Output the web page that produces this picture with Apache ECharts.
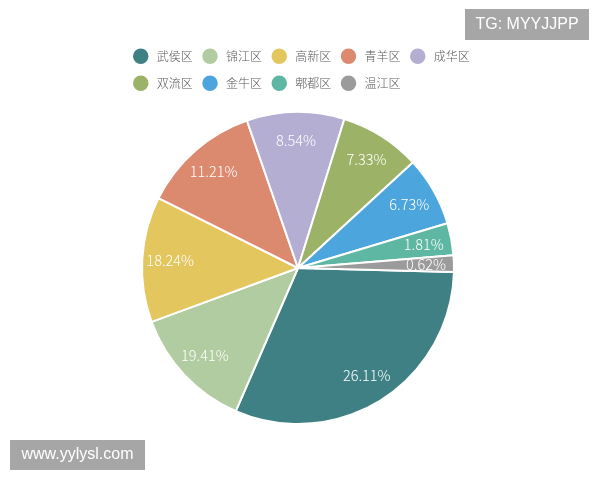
<!DOCTYPE html>
<html>
<head>
<meta charset="utf-8">
<script src="https://cdn.jsdelivr.net/npm/echarts@6/dist/echarts.min.js"></script>
<style>
html,body{margin:0;padding:0;background:#fff;}
#chart{width:600px;height:480px;}
</style>
</head>
<body>
<div id="chart"></div>
<script>
// Districts (legend / slice order, clockwise from the right)
const districts = ['武侯区', '锦江区', '高新区', '青羊区', '成华区', '双流区', '金牛区', '郫都区', '温江区'];
// Percentage texts printed on the slices
const shareLabels = ['26.11%', '19.41%', '18.24%', '11.21%', '8.54%', '7.33%', '6.73%', '1.81%', '0.62%'];
// Slice sizes as drawn in the picture (sweep, degrees)
const sliceSizes = [112.0, 46.3, 46.8, 44.3, 36.4, 30.1, 25.9, 12.0, 6.2];
// Slice colours
const sliceColors = ['#3f8084', '#b1cca1', '#e3c65e', '#db8a70', '#b5aed3', '#9cb367', '#4ca5dc', '#5eb7a2', '#9b9b9b'];

const pieData = districts.map((name, i) => ({ name: name, value: sliceSizes[i] }));

const chart = echarts.init(document.getElementById('chart'), null, { renderer: 'canvas' });
const font = '"Noto Sans CJK SC", "Noto Sans", sans-serif';

chart.setOption({
  animation: false,
  color: sliceColors,
  legend: {
    data: districts,
    left: 126,
    top: 41.5,
    width: 350,
    icon: 'circle',
    itemWidth: 22,
    itemHeight: 17.5,
    itemGap: 7.5,
    textStyle: { color: '#5a5a5a', fontSize: 12, fontFamily: font, fontWeight: 300, lineHeight: 18.5 }
  },
  graphic: [
    {
      type: 'group', left: 465, top: 9,
      children: [
        { type: 'rect', shape: { x: 0, y: 0, width: 124, height: 31 }, style: { fill: '#a6a6a6' } },
        { type: 'text', x: 62, y: 15.5, style: { text: 'TG: MYYJJPP', fill: '#ffffff', font: '16px "Liberation Sans", Arial, sans-serif', textAlign: 'center', textVerticalAlign: 'middle' } }
      ]
    },
    {
      type: 'group', left: 10, top: 440,
      children: [
        { type: 'rect', shape: { x: 0, y: 0, width: 135, height: 30 }, style: { fill: '#a6a6a6' } },
        { type: 'text', x: 67.5, y: 15, style: { text: 'www.yylysl.com', fill: '#ffffff', font: '16px "Liberation Sans", Arial, sans-serif', textAlign: 'center', textVerticalAlign: 'middle' } }
      ]
    }
  ],
  series: [
    {
      type: 'pie',
      center: [298, 268],
      radius: [0, 156],
      startAngle: -1.5,
      clockwise: true,
      data: pieData,
      label: { show: false },
      labelLine: { show: false },
      itemStyle: { borderColor: '#ffffff', borderWidth: 2 },
      emphasis: { disabled: true }
    },
    {
      type: 'pie',
      silent: true,
      center: [298, 268],
      radius: [0, 250],
      startAngle: -1.5,
      clockwise: true,
      data: pieData,
      itemStyle: { color: 'rgba(0,0,0,0)', borderWidth: 0 },
      label: {
        show: true,
        position: 'inside',
        color: '#ffffff',
        fontSize: 14.5,
        fontWeight: 300,
        fontFamily: font,
        formatter: function (p) { return shareLabels[p.dataIndex]; }
      },
      labelLine: { show: false },
      emphasis: { disabled: true }
    }
  ]
});
</script>
</body>
</html>
